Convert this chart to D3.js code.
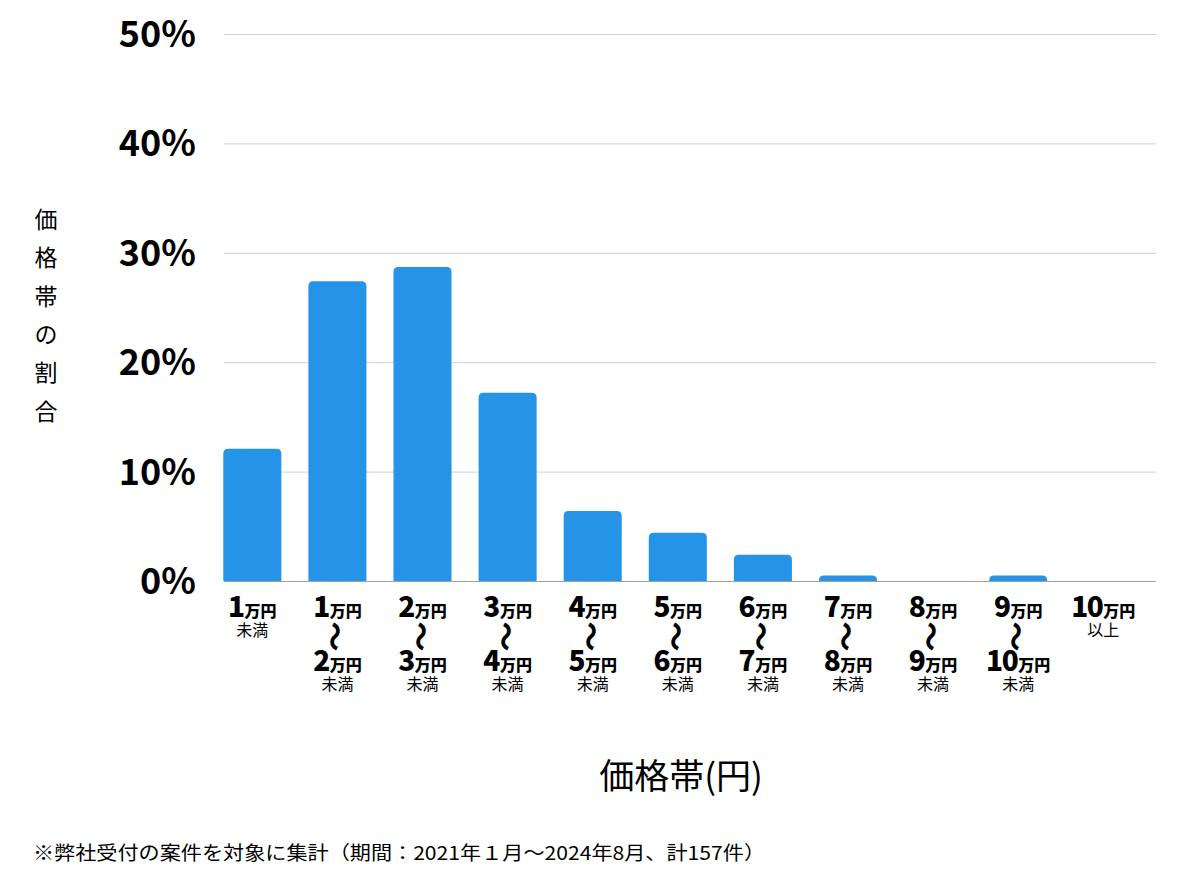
<!DOCTYPE html>
<html><head><meta charset="utf-8">
<script src="https://cdn.jsdelivr.net/npm/d3@7"></script>
<style>
html,body{margin:0;padding:0;background:#fff;}
svg{display:block;font-family:"Noto Sans CJK JP","Noto Sans",sans-serif;}
</style></head>
<body>
<svg id="chart" width="1200" height="874"></svg>
<script>
const fromLabels = ["1","1","2","3","4","5","6","7","8","9","10"];
const toLabels   = [null,"2","3","4","5","6","7","8","9","10",null];
const suffixLabels = ["未満","未満","未満","未満","未満","未満","未満","未満","未満","未満","以上"];
const shareValues = [12.1, 27.4, 28.7, 17.2, 6.4, 4.4, 2.4, 0.5, 0, 0.5, 0];
const yTicks = [0, 10, 20, 30, 40, 50];
const yTitle = "価格帯の割合";
const xTitle = "価格帯(円)";
const footnote = "※弊社受付の案件を対象に集計（期間：2021年１月〜2024年8月、計157件）";

(function(){
const svg = d3.select("#chart");
const pl = 223.3, pr = 1132.3, pt = 34, pb = 581;
const idx = d3.range(shareValues.length);
const x = d3.scaleBand().domain(idx).range([pl, pr]).paddingInner(0.318).paddingOuter(0.0);
const y = d3.scaleLinear().domain([0, 50]).range([pb, pt]);

svg.append("g").selectAll("line").data(yTicks.filter(d => d > 0)).join("line")
  .attr("x1", 224).attr("x2", 1156)
  .attr("y1", d => y(d) + 0.5).attr("y2", d => y(d) + 0.5)
  .attr("stroke", "#d0d0d0").attr("stroke-width", 1);

svg.append("g").selectAll("text").data(yTicks).join("text")
  .attr("x", 196).attr("y", d => y(d) + 13)
  .attr("text-anchor", "end")
  .attr("font-size", 36).attr("font-weight", 700).attr("fill", "#000")
  .text(d => d + "%");

const r = 5;
svg.append("g").selectAll("path").data(idx.filter(i => shareValues[i] > 0)).join("path")
  .attr("fill", "#2694E6")
  .attr("d", i => {
    const x0 = x(i), w = x.bandwidth(), y0 = y(shareValues[i]), yb = y(0);
    const rr = Math.min(r, (yb - y0));
    return `M${x0},${yb}V${y0+rr}Q${x0},${y0} ${x0+rr},${y0}H${x0+w-rr}Q${x0+w},${y0} ${x0+w},${y0+rr}V${yb}Z`;
  });

svg.append("line").attr("x1", 224).attr("x2", 1156).attr("y1", pb + 0.5).attr("y2", pb + 0.5)
  .attr("stroke", "#a0a0a0").attr("stroke-width", 1);

const xl = svg.append("g");
idx.forEach(i => {
  const cx = x(i) + x.bandwidth() / 2;
  const g = xl.append("g");
  function amount(num, yb) {
    const t = g.append("text").attr("x", cx).attr("y", yb).attr("text-anchor", "middle")
      .attr("font-weight", 900).attr("fill", "#000");
    t.append("tspan").attr("font-size", 28).attr("letter-spacing", -1.5).text(num);
    t.append("tspan").attr("font-size", 16).attr("dx", 1).text("万円");
  }
  amount(fromLabels[i], 617);
  if (toLabels[i]) {
    g.append("text").attr("transform", `translate(${cx},636.5) rotate(90)`)
      .attr("text-anchor", "middle").attr("dominant-baseline", "central")
      .attr("font-size", 30).attr("font-weight", 700).attr("fill", "#000")
      .attr("font-family", "'Noto Sans CJK JP'").text("〜");
    amount(toLabels[i], 671);
    g.append("text").attr("x", cx).attr("y", 690).attr("text-anchor", "middle")
      .attr("font-size", 16).attr("fill", "#000").text(suffixLabels[i]);
  } else {
    g.append("text").attr("x", cx).attr("y", 636).attr("text-anchor", "middle")
      .attr("font-size", 16).attr("fill", "#000").text(suffixLabels[i]);
  }
});

svg.append("g").selectAll("text").data(Array.from(yTitle)).join("text")
  .attr("x", 46).attr("y", (d, i) => 228 + i * 38.3)
  .attr("text-anchor", "middle").attr("font-size", 23).attr("fill", "#000")
  .text(d => d);

svg.append("text").attr("x", 681).attr("y", 789).attr("text-anchor", "middle")
  .attr("font-size", 35).attr("fill", "#000").text(xTitle);

svg.append("text").attr("x", 33).attr("y", 860).attr("font-size", 19).attr("fill", "#000")
  .attr("textLength", 732).attr("lengthAdjust", "spacingAndGlyphs").text(footnote);
})();
</script>
</body></html>
